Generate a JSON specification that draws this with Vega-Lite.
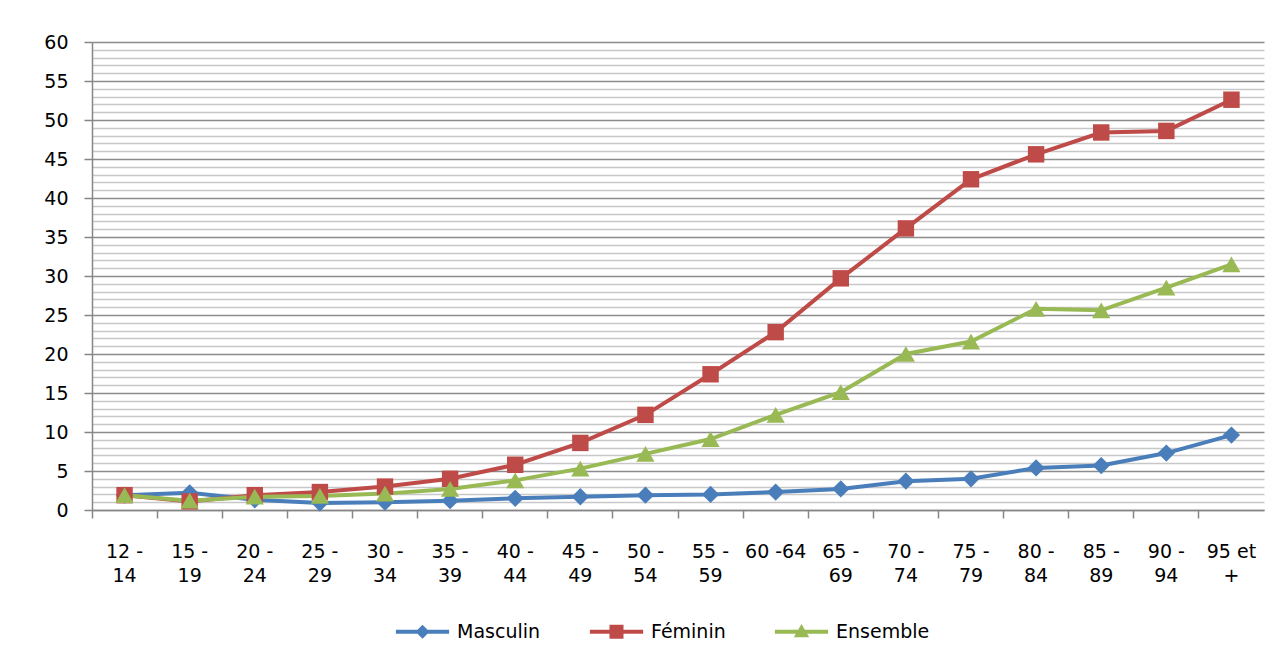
{
  "$schema": "https://vega.github.io/schema/vega-lite/v6.json",
  "autosize": "none",
  "width": 1172,
  "height": 468,
  "padding": {"left": 92, "top": 42, "right": 21, "bottom": 152},
  "background": "white",
  "config": {
    "font": "DejaVu Sans",
    "view": {"stroke": null},
    "axis": {"labelFont": "DejaVu Sans", "labelFontSize": 19, "labelColor": "#000000"}
  },
  "data": {"values": [
    {"age": "12 - 14", "serie": "Masculin", "v": 1.9},
    {"age": "15 - 19", "serie": "Masculin", "v": 2.2},
    {"age": "20 - 24", "serie": "Masculin", "v": 1.3},
    {"age": "25 - 29", "serie": "Masculin", "v": 0.9},
    {"age": "30 - 34", "serie": "Masculin", "v": 1.0},
    {"age": "35 - 39", "serie": "Masculin", "v": 1.2},
    {"age": "40 - 44", "serie": "Masculin", "v": 1.5},
    {"age": "45 - 49", "serie": "Masculin", "v": 1.7},
    {"age": "50 - 54", "serie": "Masculin", "v": 1.9},
    {"age": "55 - 59", "serie": "Masculin", "v": 2.0},
    {"age": "60 -64", "serie": "Masculin", "v": 2.3},
    {"age": "65 - 69", "serie": "Masculin", "v": 2.7},
    {"age": "70 - 74", "serie": "Masculin", "v": 3.7},
    {"age": "75 - 79", "serie": "Masculin", "v": 4.0},
    {"age": "80 - 84", "serie": "Masculin", "v": 5.4},
    {"age": "85 - 89", "serie": "Masculin", "v": 5.7},
    {"age": "90 - 94", "serie": "Masculin", "v": 7.3},
    {"age": "95 et +", "serie": "Masculin", "v": 9.6},
    {"age": "12 - 14", "serie": "Féminin", "v": 1.9},
    {"age": "15 - 19", "serie": "Féminin", "v": 1.1},
    {"age": "20 - 24", "serie": "Féminin", "v": 1.9},
    {"age": "25 - 29", "serie": "Féminin", "v": 2.3},
    {"age": "30 - 34", "serie": "Féminin", "v": 3.0},
    {"age": "35 - 39", "serie": "Féminin", "v": 4.0},
    {"age": "40 - 44", "serie": "Féminin", "v": 5.8},
    {"age": "45 - 49", "serie": "Féminin", "v": 8.6},
    {"age": "50 - 54", "serie": "Féminin", "v": 12.2},
    {"age": "55 - 59", "serie": "Féminin", "v": 17.4},
    {"age": "60 -64", "serie": "Féminin", "v": 22.8},
    {"age": "65 - 69", "serie": "Féminin", "v": 29.7},
    {"age": "70 - 74", "serie": "Féminin", "v": 36.1},
    {"age": "75 - 79", "serie": "Féminin", "v": 42.4},
    {"age": "80 - 84", "serie": "Féminin", "v": 45.6},
    {"age": "85 - 89", "serie": "Féminin", "v": 48.4},
    {"age": "90 - 94", "serie": "Féminin", "v": 48.6},
    {"age": "95 et +", "serie": "Féminin", "v": 52.6},
    {"age": "12 - 14", "serie": "Ensemble", "v": 1.9},
    {"age": "15 - 19", "serie": "Ensemble", "v": 1.2},
    {"age": "20 - 24", "serie": "Ensemble", "v": 1.7},
    {"age": "25 - 29", "serie": "Ensemble", "v": 1.8},
    {"age": "30 - 34", "serie": "Ensemble", "v": 2.1},
    {"age": "35 - 39", "serie": "Ensemble", "v": 2.7},
    {"age": "40 - 44", "serie": "Ensemble", "v": 3.8},
    {"age": "45 - 49", "serie": "Ensemble", "v": 5.3},
    {"age": "50 - 54", "serie": "Ensemble", "v": 7.2},
    {"age": "55 - 59", "serie": "Ensemble", "v": 9.1},
    {"age": "60 -64", "serie": "Ensemble", "v": 12.2},
    {"age": "65 - 69", "serie": "Ensemble", "v": 15.1},
    {"age": "70 - 74", "serie": "Ensemble", "v": 20.0},
    {"age": "75 - 79", "serie": "Ensemble", "v": 21.6},
    {"age": "80 - 84", "serie": "Ensemble", "v": 25.8},
    {"age": "85 - 89", "serie": "Ensemble", "v": 25.6},
    {"age": "90 - 94", "serie": "Ensemble", "v": 28.5},
    {"age": "95 et +", "serie": "Ensemble", "v": 31.5}
  ]},
  "encoding": {
    "x": {
      "field": "age", "type": "nominal", "sort": null, "title": null,
      "scale": {"type": "band", "paddingInner": 0, "paddingOuter": 0},
      "axis": {
        "labelAngle": 0, "domainColor": "#868686", "domainWidth": 1.5,
        "tickColor": "#868686", "tickWidth": 1.5, "tickSize": 8,
        "bandPosition": 0, "labelOffset": 0,
        "labelPadding": 24, "labelBaseline": "top", "labelLineHeight": 24,
        "grid": false,
        "labelExpr": "indexof(datum.value, ' - ') >= 0 ? [substring(datum.value, 0, indexof(datum.value, ' - ') + 2), substring(datum.value, indexof(datum.value, ' - ') + 3)] : (datum.value == '95 et +' ? ['95 et', '+'] : datum.value)"
      }
    },
    "y": {
      "field": "v", "type": "quantitative", "title": null,
      "scale": {"domain": [0, 60], "nice": false},
      "axis": {
        "values": [0,1,2,3,4,5,6,7,8,9,10,11,12,13,14,15,16,17,18,19,20,21,22,23,24,25,26,27,28,29,30,31,32,33,34,35,36,37,38,39,40,41,42,43,44,45,46,47,48,49,50,51,52,53,54,55,56,57,58,59,60],
        "labelExpr": "datum.value % 5 == 0 ? datum.value : ''",
        "grid": true,
        "gridColor": {"condition": {"test": "datum.value % 5 == 0", "value": "#8c8c8c"}, "value": "#c8c8c8"},
        "gridWidth": 1.5,
        "domainColor": "#868686", "domainWidth": 1.5,
        "tickColor": "#868686", "tickWidth": 1.5, "tickSize": 8,
        "tickOpacity": {"condition": {"test": "datum.value % 5 == 0", "value": 1}, "value": 0},
        "labelPadding": 16
      }
    },
    "color": {
      "field": "serie", "type": "nominal", "title": null,
      "scale": {"domain": ["Masculin", "Féminin", "Ensemble"], "range": ["#4a7ebb", "#be4b48", "#98b954"]},
      "legend": {
        "orient": "none", "legendX": 321, "legendY": 580, "direction": "horizontal",
        "labelFont": "DejaVu Sans", "labelFontSize": 19, "labelColor": "#000000",
        "symbolSize": 196, "labelOffset": 25, "columnPadding": 48,
        "symbolStrokeWidth": 0,
        "encode": {"symbols": {"update": {
          "shape": {"signal": "datum.value == 'Masculin' ? 'M0,-1L1,0L0,1L-1,0Z M-3.8,-0.28H3.8V0.28H-3.8Z' : datum.value == 'Féminin' ? 'M-1,-1H1V1H-1Z M-3.8,-0.28H3.8V0.28H-3.8Z' : 'M0,-1.1L1.1,0.8H-1.1Z M-3.8,-0.28H3.8V0.28H-3.8Z'"},
          "fill": {"signal": "datum.value == 'Masculin' ? '#4a7ebb' : datum.value == 'Féminin' ? '#be4b48' : '#98b954'"},
          "opacity": {"value": 1}
        }}}
      }
    }
  },
  "layer": [
    {
      "mark": {"type": "line", "strokeWidth": 4}
    },
    {
      "transform": [{"filter": "datum.serie == 'Masculin'"}],
      "mark": {"type": "point", "filled": true, "opacity": 1, "shape": "diamond", "size": 300}
    },
    {
      "transform": [{"filter": "datum.serie == 'Féminin'"}],
      "mark": {"type": "point", "filled": true, "opacity": 1, "shape": "square", "size": 270}
    },
    {
      "transform": [{"filter": "datum.serie == 'Ensemble'"}],
      "mark": {"type": "point", "filled": true, "opacity": 1, "shape": "triangle-up", "size": 330}
    }
  ]
}
